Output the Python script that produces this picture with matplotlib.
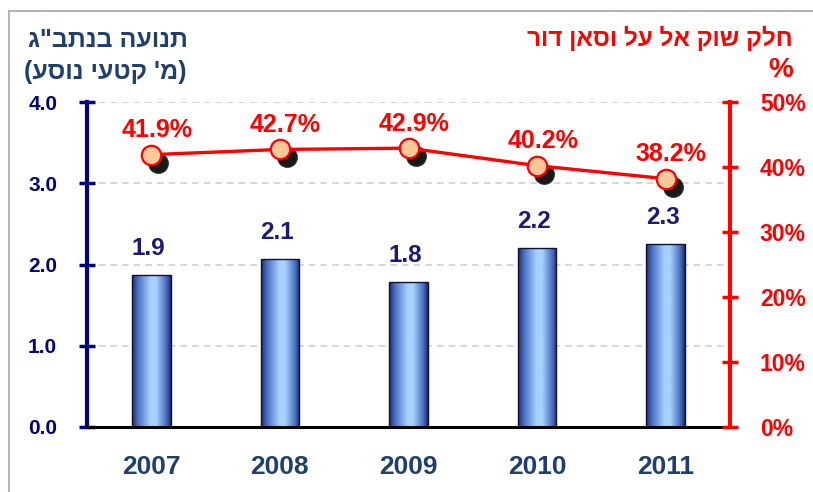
import numpy as np
import matplotlib
matplotlib.use('Agg')
import matplotlib.pyplot as plt
from matplotlib.colors import LinearSegmentedColormap
from matplotlib.patches import Rectangle
from matplotlib.transforms import ScaledTranslation

years = ['2007', '2008', '2009', '2010', '2011']
traffic = [1.87, 2.07, 1.78, 2.2, 2.25]          # millions of passenger segments
traffic_labels = ['1.9', '2.1', '1.8', '2.2', '2.3']
share = [41.9, 42.7, 42.9, 40.2, 38.2]            # El Al + Sun d'Or market share, %

left_title = ['תנועה בנתב"ג', "(מ' קטעי נוסע)"]
right_title = ['חלק שוק אל על וסאן דור', '%']

NAVY = '#000080'
SLATE = '#1f3f6e'
RED = '#ff0000'
FONT = 'Liberation Sans'


def rtl(s):
    # matplotlib has no bidi support, so lay out hebrew by hand
    swap = {'(': ')', ')': '('}
    return ''.join(swap.get(c, c) for c in reversed(s))


fig = plt.figure(figsize=(8.13, 4.92), dpi=100)
ax = fig.add_axes([87 / 813, 1 - 427 / 492, (730 - 87) / 813, (427 - 102) / 492])
ax2 = ax.twinx()

x = np.arange(len(years))
bar_w = 0.30

# gradient bars
cmap = LinearSegmentedColormap.from_list(
    'bar', [(0, '#1a2c6a'), (0.15, '#4a6fc0'), (0.48, '#a6d2ff'), (0.62, '#a6d2ff'),
            (0.88, '#4a6fc0'), (1, '#1a2c6a')])
bars = ax.bar(x, traffic, width=bar_w, color='none', edgecolor='#101030', linewidth=1.0, zorder=3)
grad = np.linspace(0, 1, 256).reshape(1, -1)
for b in bars:
    x0, y0 = b.get_x(), b.get_y()
    im = ax.imshow(grad, cmap=cmap, aspect='auto', zorder=2,
                   extent=[x0, x0 + b.get_width(), y0, y0 + b.get_height()])
    im.set_clip_path(b)

for xi, v, lab in zip(x, traffic, traffic_labels):
    ax.annotate(lab, (xi, v), xytext=(-2, 11), textcoords='offset points',
                ha='center', va='bottom', fontsize=17.5, fontweight='bold',
                color='#1a1a7a', family=FONT)

ax.set_xlim(-0.5, len(years) - 0.5)
ax.set_ylim(0, 4)
ax.set_yticks([0, 1, 2, 3, 4])
ax.set_yticklabels([f'{t:.1f}' for t in [0, 1, 2, 3, 4]])
ax.set_xticks(x)
ax.set_xticklabels(years)
ax.tick_params(axis='x', length=0, pad=20, labelsize=19, labelcolor=SLATE)
for t in ax.get_xticklabels():
    t.set_fontweight('bold')
    t.set_family(FONT)
ax.tick_params(axis='y', direction='inout', length=11, width=2.5, color=NAVY,
               labelsize=15, labelcolor=NAVY, pad=16)
for t in ax.get_yticklabels():
    t.set_fontweight('bold')
    t.set_family(FONT)

for gy in [1, 2, 3, 4]:
    ax.axhline(gy, color='#d0d0d0', lw=1.2, ls=(0, (4, 3)), zorder=1)

ax.spines['top'].set_visible(False)
ax2.spines['top'].set_visible(False)
ax.spines['left'].set_color(NAVY)
ax.spines['left'].set_linewidth(3)
ax.spines['bottom'].set_color('black')
ax.spines['bottom'].set_linewidth(2.2)
ax.spines['bottom'].set_zorder(5)
ax2.spines['left'].set_visible(False)
ax2.spines['bottom'].set_visible(False)
ax2.spines['right'].set_color(RED)
ax2.spines['right'].set_linewidth(3)

# share line on the right axis
ax2.set_ylim(0, 50)
ax2.set_yticks([0, 10, 20, 30, 40, 50])
ax2.set_yticklabels([f'{t}%' for t in [0, 10, 20, 30, 40, 50]])
ax2.tick_params(axis='y', direction='inout', length=11, width=2.5, color=RED,
                labelsize=16.5, labelcolor=RED, pad=16)
for t in ax2.get_yticklabels():
    t.set_fontweight('bold')
    t.set_family(FONT)

shadow = ax2.transData + ScaledTranslation(7 / 100, -8 / 100, fig.dpi_scale_trans)
ax2.plot(x, share, ls='none', marker='o', ms=14, mfc='black', mec='#202020',
         alpha=0.9, transform=shadow, zorder=2)
ax2.plot(x, share, color=RED, lw=2.4, marker='o', ms=14, mfc='#fbc89a',
         mec=RED, mew=1.6, zorder=4)
for xi, v in zip(x, share):
    ax2.annotate(f'{v:.1f}%', (xi, v), xytext=(4, 9), textcoords='offset points',
                 ha='center', va='bottom', fontsize=18, fontweight='bold',
                 color=RED, family=FONT)

# titles
fig.text(188 / 813, 1 - 40 / 492, rtl(left_title[0]), ha='right', va='center',
         fontsize=18, fontweight='bold', color=SLATE, family=FONT)
fig.text(186 / 813, 1 - 72 / 492, rtl(left_title[1]), ha='right', va='center',
         fontsize=18, fontweight='bold', color=SLATE, family=FONT)
fig.text(793 / 813, 1 - 38 / 492, rtl(right_title[0]), ha='right', va='center',
         fontsize=17.5, fontweight='bold', color=RED, family=FONT)
fig.text(793 / 813, 1 - 70 / 492, right_title[1], ha='right', va='center',
         fontsize=20, fontweight='bold', color=RED, family=FONT)

# outer frame (only left and top edges visible in the crop)
fig.patches.append(Rectangle((9 / 813, -0.1), 1.2, 1.1 - 11 / 492,
                             transform=fig.transFigure, fill=False,
                             edgecolor='#b5b5b5', lw=1.5))

fig.savefig('out.png', dpi=100)
